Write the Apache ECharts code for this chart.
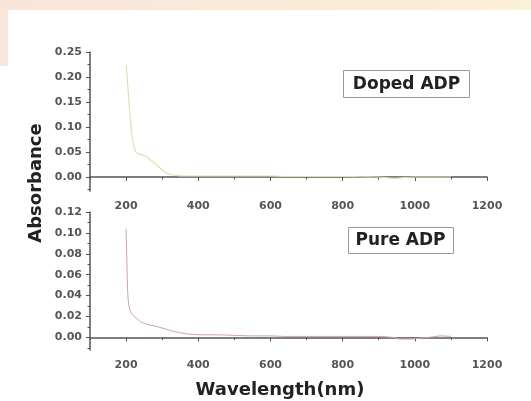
<!DOCTYPE html>
<html>
<head>
<meta charset="utf-8">
<script src="https://cdn.jsdelivr.net/npm/echarts@6/dist/echarts.min.js"></script>
<style>
  html, body { margin: 0; padding: 0; background: #fff; }
  #chart { width: 531px; height: 401px; }
</style>
</head>
<body>
<div id="chart"></div>
<script>
// wavelength (nm) / absorbance pairs
const dopedWave = [200, 203, 206, 209, 212, 215, 218, 222, 226, 232, 240, 250, 258, 266, 275, 285, 295, 305, 315, 325, 340, 360, 400, 500, 600, 620, 650, 700, 800, 850, 900, 930, 950, 970, 1000, 1050, 1100];
const dopedAbs = [0.224, 0.2, 0.17, 0.14, 0.115, 0.092, 0.075, 0.06, 0.052, 0.047, 0.045, 0.043, 0.04, 0.035, 0.03, 0.024, 0.017, 0.011, 0.007, 0.005, 0.003, 0.002, 0.002, 0.002, 0.002, 0.0015, 0.001, 0.001, 0.001, 0.0005, 0.0, -0.002, -0.0025, -0.001, 0.0, 0.0, 0.0];

const pureWave = [200, 201, 202, 203, 204, 205, 207, 210, 215, 220, 230, 240, 250, 265, 285, 310, 330, 350, 380, 410, 450, 500, 550, 600, 640, 700, 800, 900, 940, 960, 990, 1020, 1050, 1070, 1090, 1100];
const pureAbs = [0.104, 0.09, 0.075, 0.06, 0.048, 0.04, 0.032, 0.027, 0.023, 0.021, 0.018, 0.015, 0.0135, 0.012, 0.0105, 0.008, 0.006, 0.0045, 0.003, 0.0025, 0.0025, 0.002, 0.0015, 0.0015, 0.001, 0.001, 0.001, 0.001, 0.0, -0.0015, -0.0015, -0.0005, 0.0005, 0.0015, 0.0012, 0.001];

const xMajor = [200, 400, 600, 800, 1000, 1200];
const xMinor = [100, 300, 500, 700, 900, 1100];
const topMajor = [0, 0.05, 0.1, 0.15, 0.2, 0.25];
const topMinor = [-0.025, 0.025, 0.075, 0.125, 0.175, 0.225];
const botMajor = [0, 0.02, 0.04, 0.06, 0.08, 0.1, 0.12];
const botMinor = [-0.01, 0.01, 0.03, 0.05, 0.07, 0.09, 0.11];

const zip = (a, b) => a.map((v, i) => [v, b[i]]);

const axisCol = '#555';
const labelStyle = { color: '#555', fontSize: 11, fontWeight: 'bold', fontFamily: 'DejaVu Sans' };

function xAxes(grid) {
  return [
    {
      type: 'value', gridIndex: grid, min: 100, max: 1200,
      axisLine: { lineStyle: { color: axisCol, width: 1.5 } },
      axisTick: { customValues: xMajor, length: 4, lineStyle: { color: axisCol } },
      axisLabel: Object.assign({ customValues: xMajor, margin: 10, formatter: v => String(v) }, labelStyle),
      splitLine: { show: false }
    },
    {
      type: 'value', gridIndex: grid, min: 100, max: 1200, position: 'bottom',
      axisLine: { show: false },
      axisTick: { customValues: xMinor, length: 2.5, lineStyle: { color: axisCol } },
      axisLabel: { show: false },
      splitLine: { show: false }
    }
  ];
}

function yAxes(grid, min, max, major, minor) {
  return [
    {
      type: 'value', gridIndex: grid, min: min, max: max,
      axisLine: { show: true, lineStyle: { color: axisCol, width: 1.5 } },
      axisTick: { show: true, customValues: major, length: 4, lineStyle: { color: axisCol } },
      axisLabel: Object.assign({ customValues: major, margin: 8, formatter: v => v.toFixed(2) }, labelStyle),
      splitLine: { show: false }
    },
    {
      type: 'value', gridIndex: grid, min: min, max: max, position: 'left',
      axisLine: { show: false },
      axisTick: { show: true, customValues: minor, length: 2.5, lineStyle: { color: axisCol } },
      axisLabel: { show: false },
      splitLine: { show: false }
    }
  ];
}

const chart = echarts.init(document.getElementById('chart'));

const option = {
  backgroundColor: '#fff',
  animation: false,
  grid: [
    { left: 90, top: 52, width: 397, height: 139 },
    { left: 90, top: 212, width: 397, height: 138 }
  ],
  xAxis: [].concat(xAxes(0), xAxes(1)),
  yAxis: [].concat(
    yAxes(0, -0.028, 0.25, topMajor, topMinor),
    yAxes(1, -0.012, 0.12, botMajor, botMinor)
  ),
  graphic: [
    {
      type: 'rect', left: 0, top: 0, z: -10,
      shape: { width: 531, height: 10 },
      style: {
        fill: new echarts.graphic.LinearGradient(0, 0, 1, 0, [
          { offset: 0, color: '#f9e4da' },
          { offset: 1, color: '#fbf0d8' }
        ])
      }
    },
    {
      type: 'rect', left: 0, top: 10, z: -10,
      shape: { width: 8, height: 56 },
      style: { fill: '#f9e6dd' }
    },
    {
      type: 'text', x: 36, y: 183, rotation: Math.PI / 2, z: 10,
      style: {
        text: 'Absorbance', fill: '#222', font: 'bold 18px "DejaVu Sans"',
        align: 'center', verticalAlign: 'middle'
      }
    },
    {
      type: 'text', x: 280, y: 390,
      style: {
        text: 'Wavelength(nm)', fill: '#222', font: 'bold 18px "DejaVu Sans"',
        align: 'center', verticalAlign: 'middle'
      }
    },
    {
      type: 'group', left: 343, top: 70,
      children: [
        { type: 'rect', shape: { width: 126, height: 27 }, style: { fill: '#fff', stroke: '#999', lineWidth: 1 } },
        { type: 'text', x: 63, y: 14, style: { text: 'Doped ADP', fill: '#222', font: 'bold 17px "DejaVu Sans"', align: 'center', verticalAlign: 'middle' } }
      ]
    },
    {
      type: 'group', left: 348, top: 227,
      children: [
        { type: 'rect', shape: { width: 105, height: 26 }, style: { fill: '#fff', stroke: '#999', lineWidth: 1 } },
        { type: 'text', x: 52, y: 13.5, style: { text: 'Pure ADP', fill: '#222', font: 'bold 17px "DejaVu Sans"', align: 'center', verticalAlign: 'middle' } }
      ]
    }
  ],
  series: [
    {
      name: 'Doped ADP', type: 'line', xAxisIndex: 0, yAxisIndex: 0,
      data: zip(dopedWave, dopedAbs), showSymbol: false, smooth: 0.3,
      lineStyle: { color: '#e8dcb2', width: 1.2 }
    },
    {
      name: 'Pure ADP', type: 'line', xAxisIndex: 2, yAxisIndex: 2,
      data: zip(pureWave, pureAbs), showSymbol: false, smooth: 0.3,
      lineStyle: { color: '#c9a3b6', width: 1 }
    }
  ]
};

chart.setOption(option);
</script>
</body>
</html>
